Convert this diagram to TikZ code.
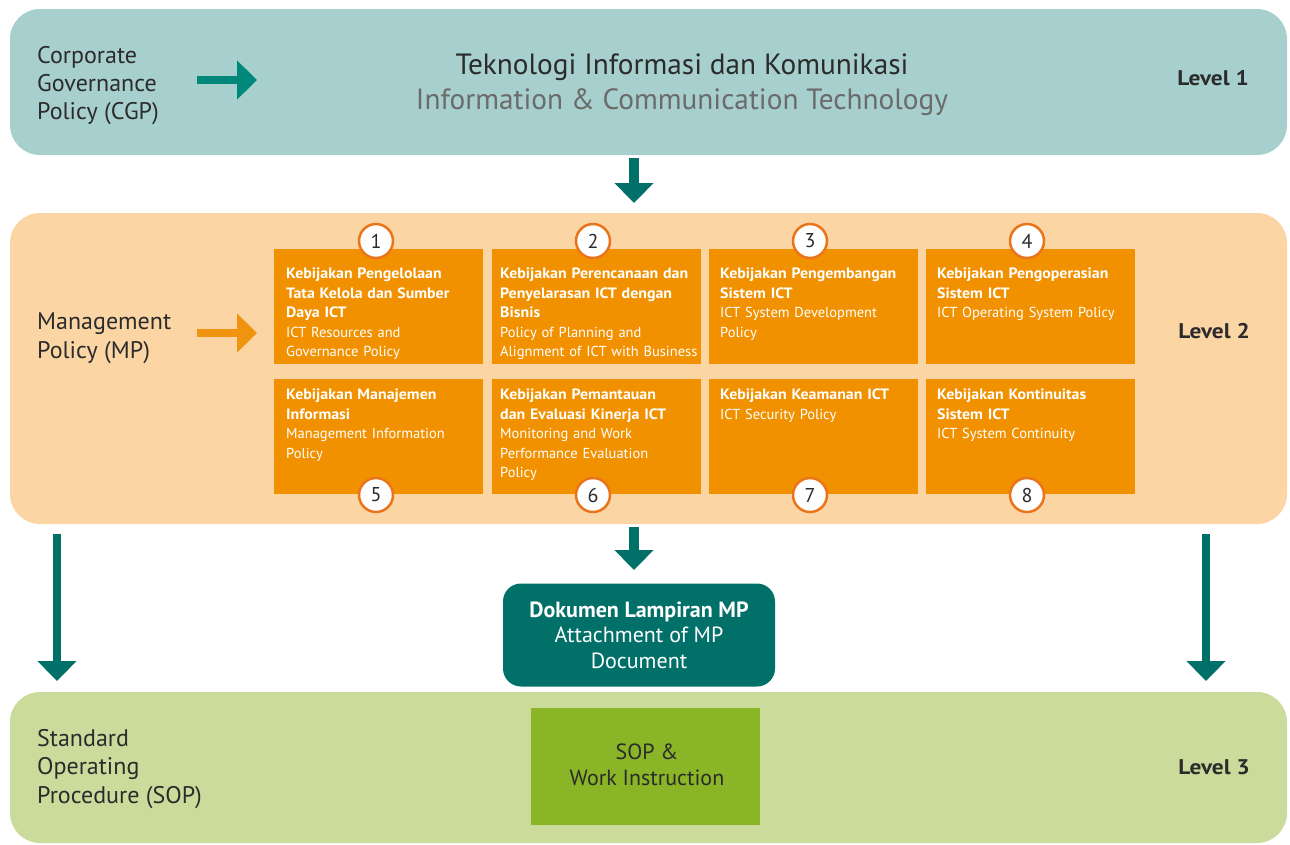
\documentclass[tikz,border=0pt]{standalone}
\usepackage{fontspec}
\setmainfont{PT Sans}
\newfontfamily\widefam{PT Sans}[FakeStretch=1.1]
\newfontfamily\boxfam{PT Sans}[FakeStretch=1.06]
\usetikzlibrary{arrows.meta,calc}
\definecolor{tealband}{HTML}{A6CFCD}
\definecolor{peach}{HTML}{FCD5A5}
\definecolor{orangebox}{HTML}{F29100}
\definecolor{circleedge}{HTML}{EA7419}
\definecolor{darkteal}{HTML}{007068}
\definecolor{midteal}{HTML}{00897B}
\definecolor{greenband}{HTML}{CBDB9B}
\definecolor{sopgreen}{HTML}{8AB527}
\definecolor{txt}{HTML}{2B2B2B}
\definecolor{subgrey}{HTML}{6B6B6B}
\definecolor{arroworange}{HTML}{F0930E}
\newcommand{\bxb}[1]{{\boxfam\bfseries\fontsize{15}{19.5}\selectfont #1}}
\tikzset{
  band/.style={draw=none, rounded corners=30pt, minimum width=1277pt, inner sep=0pt},
  policybox/.style={fill=orangebox, draw=none, minimum width=209pt, minimum height=115pt, inner sep=0pt},
  boxtext/.style={anchor=north west, text width=205pt, align=left, inner sep=0pt, text=white,
     font=\fontsize{14.5}{19.5}\selectfont},
  numcircle/.style={circle, fill=white, draw=circleedge, line width=2.5pt, minimum size=34pt, inner sep=0pt,
     text=txt, font=\fontsize{20}{20}\selectfont},
  sidelabel/.style={anchor=west, align=left, text=txt, inner sep=0pt, font=\fontsize{24}{28.7}\selectfont},
  levellabel/.style={anchor=east, text=txt, inner sep=0pt, font=\fontsize{21.2}{24}\selectfont\widefam\bfseries},
  blockarrow/.style={line width=#1, -{Triangle[width=38pt,length=20pt]}},
}
\begin{document}
\begin{tikzpicture}[x=1pt,y=-1pt]
\useasboundingbox (0,0) rectangle (1290,844);
% bands
\node[band, fill=tealband, minimum height=146pt] (L1) at (648.5,82) {};
\node[band, fill=peach, minimum height=311pt] (L2) at (648.5,368.5) {};
\node[band, fill=greenband, minimum height=151pt] (L3) at (648.5,767.5) {};

% level 1 content
\node[sidelabel, font=\fontsize{24}{28}\selectfont] (cgp) at (37,86) {Corporate\\Governance\\Policy (CGP)};
\node[align=center, inner sep=0pt, font=\fontsize{29.3}{35}\selectfont] (title) at (682,85)
  {\textcolor{txt}{Teknologi Informasi dan Komunikasi}\\\textcolor{subgrey}{Information \& Communication Technology}};
\node[levellabel] (lv1) at (1249,78) {Level 1};
\coordinate (a1s) at (197,80);
\coordinate (a1e) at (257,80);
\draw[midteal, blockarrow=8pt] (a1s) -- (a1e);

% arrow level1 -> level2
\coordinate (d1s) at (634,158);
\coordinate (d1e) at (634,203);
\draw[darkteal, blockarrow=10pt] (d1s) -- (d1e);

% level 2 content
\node[sidelabel] (mp) at (37,338) {Management\\Policy (MP)};
\node[levellabel] (lv2) at (1250,331) {Level 2};
\coordinate (a2s) at (197,333);
\coordinate (a2e) at (257,333);
\draw[arroworange, blockarrow=8pt] (a2s) -- (a2e);

% policy boxes
\node[policybox] (p1) at (378.5,306.5) {};
\node[policybox] (p2) at (596.5,306.5) {};
\node[policybox] (p3) at (813.5,306.5) {};
\node[policybox] (p4) at (1030.5,306.5) {};
\node[policybox] (p5) at (378.5,436.5) {};
\node[policybox] (p6) at (596.5,436.5) {};
\node[policybox] (p7) at (813.5,436.5) {};
\node[policybox] (p8) at (1030.5,436.5) {};

\node[boxtext] (t1) at (286,268) {\bxb{Kebijakan Pengelolaan\\Tata Kelola dan Sumber\\Daya ICT}\\ICT Resources and\\Governance Policy};
\node[boxtext] (t2) at (500,268) {\bxb{Kebijakan Perencanaan dan\\Penyelarasan ICT dengan\\Bisnis}\\Policy of Planning and\\Alignment of ICT with Business};
\node[boxtext] (t3) at (720,268) {\bxb{Kebijakan Pengembangan\\Sistem ICT}\\ICT System Development\\Policy};
\node[boxtext] (t4) at (937,268) {\bxb{Kebijakan Pengoperasian\\Sistem ICT}\\ICT Operating System Policy};
\node[boxtext] (t5) at (286,389) {\bxb{Kebijakan Manajemen\\Informasi}\\Management Information\\Policy};
\node[boxtext] (t6) at (500,389) {\bxb{Kebijakan Pemantauan\\dan Evaluasi Kinerja ICT}\\Monitoring and Work\\Performance Evaluation\\Policy};
\node[boxtext] (t7) at (720,389) {\bxb{Kebijakan Keamanan ICT}\\ICT Security Policy};
\node[boxtext] (t8) at (937,389) {\bxb{Kebijakan Kontinuitas\\Sistem ICT}\\ICT System Continuity};

\node[numcircle] (c1) at (376,241) {1};
\node[numcircle] (c2) at (593,241) {2};
\node[numcircle] (c3) at (810,241) {3};
\node[numcircle] (c4) at (1027,241) {4};
\node[numcircle] (c5) at (376,495) {5};
\node[numcircle] (c6) at (593,495) {6};
\node[numcircle] (c7) at (810,495) {7};
\node[numcircle] (c8) at (1027,495) {8};

% arrows below level 2
\coordinate (d2s) at (634,527);
\coordinate (d2e) at (634,570);
\draw[darkteal, blockarrow=10pt] (d2s) -- (d2e);
\coordinate (lls) at (57,534);
\coordinate (lle) at (57,681);
\draw[darkteal, blockarrow=8pt] (lls) -- (lle);
\coordinate (rrs) at (1206,534);
\coordinate (rre) at (1206,681);
\draw[darkteal, blockarrow=8pt] (rrs) -- (rre);

% attachment document
\node[fill=darkteal, rounded corners=18pt, minimum width=272pt, minimum height=103pt, inner sep=0pt,
  align=center, text=white, font=\fontsize{22}{25.5}\selectfont] (doc) at (639,635)
  {\textbf{Dokumen Lampiran MP}\\Attachment of MP\\Document};

% level 3 content
\node[sidelabel] (sop) at (37,769) {Standard\\Operating\\Procedure (SOP)};
\node[levellabel] (lv3) at (1250,767) {Level 3};
\node[fill=sopgreen, minimum width=229pt, minimum height=117pt, inner sep=0pt] (sopbox) at (645.5,766.5) {};
\node[align=center, inner sep=0pt, text=txt, font=\fontsize{22}{26}\selectfont] (soptext) at (647,765) {SOP \&\\Work Instruction};
\end{tikzpicture}
\end{document}
